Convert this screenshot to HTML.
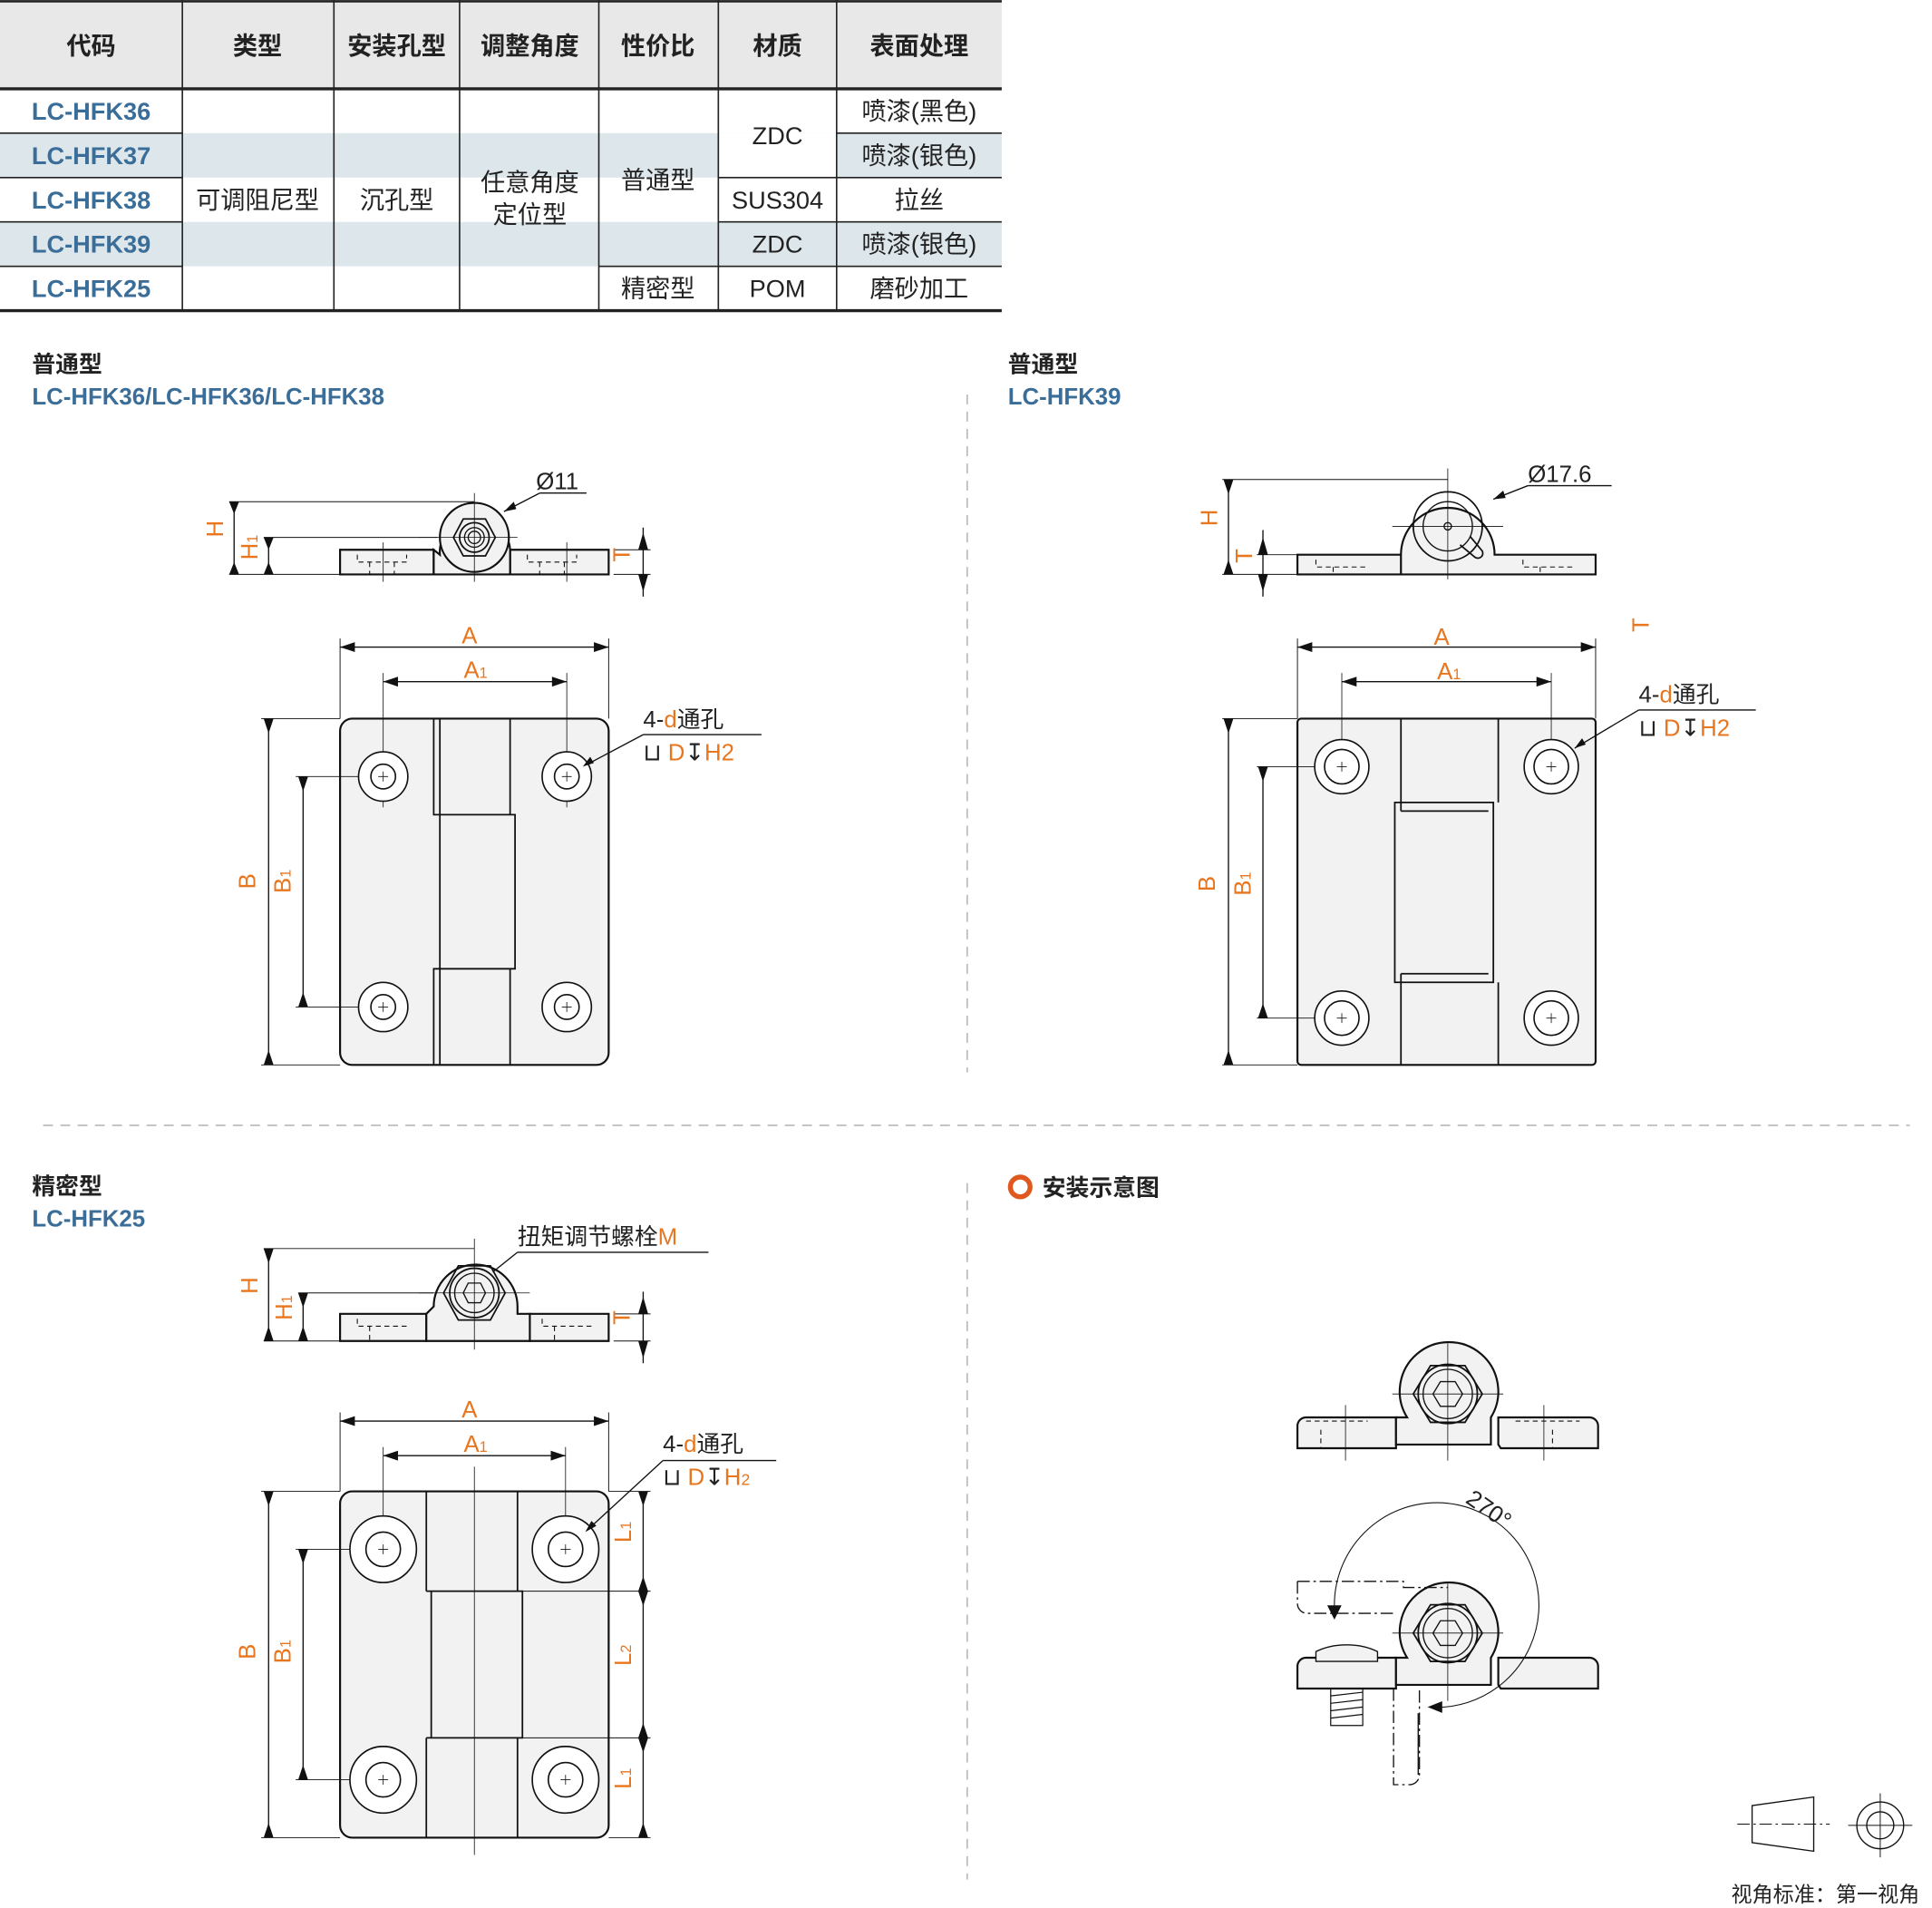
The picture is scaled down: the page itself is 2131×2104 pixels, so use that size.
<!DOCTYPE html>
<html><head><meta charset="utf-8"><style>
html,body{margin:0;padding:0;background:#fff}
svg{display:block}
text{font-family:"Liberation Sans","Noto Sans CJK SC",sans-serif}
</style></head><body>
<svg width="2131" height="2104" viewBox="0 0 1568 1548" xmlns="http://www.w3.org/2000/svg">
<rect x="0" y="0" width="813" height="72" fill="#e8e8e8"/>
<rect x="0" y="108" width="813" height="36" fill="#dde6ea"/>
<rect x="0" y="180" width="813" height="36" fill="#dde6ea"/>
<rect x="583" y="108" width="96" height="36" fill="#fff"/>
<g stroke="#222" stroke-width="1.2">
<line x1="0" y1="1" x2="813" y2="1" stroke-width="2"/>
<line x1="0" y1="72" x2="813" y2="72" stroke-width="2.5"/>
<line x1="0" y1="252" x2="813" y2="252" stroke-width="2.5"/>
<line x1="148" y1="0" x2="148" y2="252"/><line x1="271" y1="0" x2="271" y2="252"/>
<line x1="373" y1="0" x2="373" y2="252"/><line x1="486" y1="0" x2="486" y2="252"/>
<line x1="583" y1="0" x2="583" y2="252"/><line x1="679" y1="0" x2="679" y2="252"/>
<line x1="0" y1="108" x2="148" y2="108"/><line x1="0" y1="144" x2="148" y2="144"/>
<line x1="0" y1="180" x2="148" y2="180"/><line x1="0" y1="216" x2="148" y2="216"/>
<line x1="679" y1="108" x2="813" y2="108"/><line x1="583" y1="144" x2="813" y2="144"/>
<line x1="583" y1="180" x2="813" y2="180"/><line x1="486" y1="216" x2="813" y2="216"/>
</g>
<g font-size="20" text-anchor="middle" fill="#222" font-weight="bold">
<text x="74" y="44">代码</text><text x="209" y="44">类型</text><text x="322" y="44">安装孔型</text>
<text x="430" y="44">调整角度</text><text x="534" y="44">性价比</text><text x="631" y="44">材质</text><text x="746" y="44">表面处理</text>
</g>
<g font-size="20" text-anchor="middle" fill="#3a6e98" font-weight="bold">
<text x="74" y="97">LC-HFK36</text><text x="74" y="133">LC-HFK37</text><text x="74" y="169">LC-HFK38</text>
<text x="74" y="205">LC-HFK39</text><text x="74" y="241">LC-HFK25</text>
</g>
<g font-size="20" text-anchor="middle" fill="#222">
<text x="209" y="169">可调阻尼型</text><text x="322" y="169">沉孔型</text>
<text x="430" y="155">任意角度</text><text x="430" y="181">定位型</text>
<text x="534" y="153">普通型</text><text x="534" y="241">精密型</text>
<text x="631" y="117">ZDC</text><text x="631" y="169">SUS304</text><text x="631" y="205">ZDC</text><text x="631" y="241">POM</text>
<text x="746" y="97">喷漆(黑色)</text><text x="746" y="133">喷漆(银色)</text><text x="746" y="169">拉丝</text>
<text x="746" y="205">喷漆(银色)</text><text x="746" y="241">磨砂加工</text>
</g>
<g font-size="19" font-weight="bold">
<text x="26" y="302" fill="#222">普通型</text><text x="26" y="328" fill="#3a6e98">LC-HFK36/LC-HFK36/LC-HFK38</text>
<text x="818" y="302" fill="#222">普通型</text><text x="818" y="328" fill="#3a6e98">LC-HFK39</text>
<text x="26" y="969" fill="#222">精密型</text><text x="26" y="995" fill="#3a6e98">LC-HFK25</text>
<text x="846" y="970" fill="#222">安装示意图</text>
</g>
<circle cx="828" cy="963" r="8" fill="none" stroke="#e0581e" stroke-width="4"/>
<g stroke="#aaa" stroke-width="1" stroke-dasharray="8 6" fill="none">
<line x1="785" y1="320" x2="785" y2="870"/><line x1="785" y1="960" x2="785" y2="1525"/>
<line x1="35" y1="913" x2="1550" y2="913"/>
</g>

<g stroke="#111" stroke-width="1" fill="none">
<path d="M276,446 H352 V466 H276 Z M414,446 H494 V466 H414 Z" fill="#f2f2f2" stroke-width="1.6"/>
<path d="M357,450 A28,28 0 1 1 414,446 V466 H352 V446 Z" fill="#f2f2f2" stroke-width="1.6"/>
<circle cx="385" cy="436" r="28" fill="#f2f2f2" stroke-width="1.6"/>
<polygon points="368,436 376,421 394,421 402,436 394,451 376,451" stroke-width="1.3"/>
<circle cx="385" cy="436" r="12" stroke-width="1.3"/><circle cx="385" cy="436" r="8"/><circle cx="385" cy="436" r="5"/>
<line x1="385" y1="400" x2="385" y2="472" stroke-width="0.6"/><line x1="340" y1="436" x2="420" y2="436" stroke-width="0.6"/>
<line x1="311" y1="440" x2="311" y2="472" stroke-width="0.6"/><line x1="460" y1="440" x2="460" y2="472" stroke-width="0.6"/>
<path d="M290,450 v6 h40 v-6 M300,456 v10 M320,456 v10 M428,450 v6 h40 v-6 M438,456 v10 M458,456 v10" stroke-dasharray="4 3" stroke-width="0.8"/>
<line x1="186" y1="407" x2="385" y2="407" stroke-width="0.7"/><line x1="186" y1="466" x2="276" y2="466" stroke-width="0.7"/>
<line x1="214" y1="436" x2="355" y2="436" stroke-width="0.7"/>
<line x1="190" y1="407" x2="190" y2="466"/><line x1="218" y1="436" x2="218" y2="466"/>
<line x1="498" y1="446" x2="528" y2="446" stroke-width="0.7"/><line x1="498" y1="466" x2="528" y2="466" stroke-width="0.7"/>
<line x1="522" y1="428" x2="522" y2="484"/>
<line x1="409" y1="415" x2="438" y2="400"/><line x1="438" y1="400" x2="476" y2="400"/>
<rect x="276" y="583" width="218" height="281" rx="10" fill="#f2f2f2" stroke-width="1.6"/>
<path d="M352,583 V661 H357 V786 H352 V864 M414,583 V661 H418 V786 H414 V864 M357,583 V661 M357,786 V864 M352,661 H418 M352,786 H418" stroke-width="1.3"/>
<line x1="276" y1="525" x2="494" y2="525"/><line x1="311" y1="553" x2="460" y2="553"/>
<line x1="276" y1="518" x2="276" y2="583" stroke-width="0.7"/><line x1="494" y1="518" x2="494" y2="583" stroke-width="0.7"/>
<line x1="311" y1="546" x2="311" y2="655" stroke-width="0.6"/><line x1="460" y1="546" x2="460" y2="655" stroke-width="0.6"/>
<line x1="212" y1="583" x2="276" y2="583" stroke-width="0.7"/><line x1="212" y1="864" x2="276" y2="864" stroke-width="0.7"/>
<line x1="240" y1="630" x2="311" y2="630" stroke-width="0.6"/><line x1="240" y1="817" x2="311" y2="817" stroke-width="0.6"/>
<line x1="218" y1="583" x2="218" y2="864"/><line x1="246" y1="630" x2="246" y2="817"/>
<line x1="473" y1="622" x2="522" y2="596"/><line x1="522" y1="596" x2="618" y2="596"/>
</g>
<g fill="#fff" stroke="#111" stroke-width="1.2">
<circle cx="311" cy="630" r="20"/><circle cx="311" cy="630" r="10"/>
<circle cx="460" cy="630" r="20"/><circle cx="460" cy="630" r="10"/>
<circle cx="311" cy="817" r="20"/><circle cx="311" cy="817" r="10"/>
<circle cx="460" cy="817" r="20"/><circle cx="460" cy="817" r="10"/>
</g>
<g stroke="#111" stroke-width="0.6"><path d="M307,630h8M311,626v8M456,630h8M460,626v8M307,817h8M311,813v8M456,817h8M460,813v8"/></g>

<g stroke="#111" stroke-width="1" fill="none">
<path d="M1053,450 H1140 L1160,466 H1053 Z" fill="#f2f2f2" stroke-width="1.6"/>
<path d="M1137,450 A38,38 0 1 1 1213,450 H1295 V466 H1137 Z" fill="#f2f2f2" stroke-width="1.6"/>
<circle cx="1175" cy="427" r="28" stroke-width="1.3"/><circle cx="1175" cy="427" r="20"/><circle cx="1175" cy="427" r="3"/>
<path d="M1185,442 l12,10 a4,4 0 0 0 6,-5 l-10,-12" stroke-width="1.3"/>
<line x1="1175" y1="380" x2="1175" y2="470" stroke-width="0.6"/><line x1="1130" y1="427" x2="1220" y2="427" stroke-width="0.6"/>
<path d="M1068,454 v6 h42 M1082,460 v6 M1236,454 v6 h42 M1250,460 v6" stroke-dasharray="4 3" stroke-width="0.8"/>
<line x1="992" y1="389" x2="1175" y2="389" stroke-width="0.7"/><line x1="992" y1="466" x2="1053" y2="466" stroke-width="0.7"/>
<line x1="1020" y1="450" x2="1053" y2="450" stroke-width="0.7"/>
<line x1="997" y1="389" x2="997" y2="466"/><line x1="1025" y1="430" x2="1025" y2="484"/>
<line x1="1212" y1="405" x2="1240" y2="394"/><line x1="1240" y1="394" x2="1308" y2="394"/>
<rect x="1053" y="583" width="242" height="281" rx="3" fill="#f2f2f2" stroke-width="1.6"/>
<path d="M1137,583 V651 M1216,583 V651 M1137,797 V864 M1216,797 V864 M1132,651 H1212 V797 H1132 Z M1137,658 H1208 M1137,790 H1208 M1137,651 V658 M1137,790 V797" stroke-width="1.3"/>
<line x1="1053" y1="525" x2="1295" y2="525"/><line x1="1089" y1="553" x2="1259" y2="553"/>
<line x1="1053" y1="518" x2="1053" y2="583" stroke-width="0.7"/><line x1="1295" y1="518" x2="1295" y2="583" stroke-width="0.7"/>
<line x1="1089" y1="546" x2="1089" y2="600" stroke-width="0.6"/><line x1="1259" y1="546" x2="1259" y2="600" stroke-width="0.6"/>
<line x1="992" y1="583" x2="1053" y2="583" stroke-width="0.7"/><line x1="992" y1="864" x2="1053" y2="864" stroke-width="0.7"/>
<line x1="1020" y1="622" x2="1089" y2="622" stroke-width="0.6"/><line x1="1020" y1="826" x2="1089" y2="826" stroke-width="0.6"/>
<line x1="997" y1="583" x2="997" y2="864"/><line x1="1025" y1="622" x2="1025" y2="826"/>
<line x1="1278" y1="607" x2="1330" y2="576"/><line x1="1330" y1="576" x2="1425" y2="576"/>
</g>
<g fill="#fff" stroke="#111" stroke-width="1.2">
<circle cx="1089" cy="622" r="22"/><circle cx="1089" cy="622" r="14"/>
<circle cx="1259" cy="622" r="22"/><circle cx="1259" cy="622" r="14"/>
<circle cx="1089" cy="826" r="22"/><circle cx="1089" cy="826" r="14"/>
<circle cx="1259" cy="826" r="22"/><circle cx="1259" cy="826" r="14"/>
</g>
<g stroke="#111" stroke-width="0.6"><path d="M1085,622h8M1089,618v8M1255,622h8M1259,618v8M1085,826h8M1089,822v8M1255,826h8M1259,822v8"/></g>

<g stroke="#111" stroke-width="1" fill="none">
<path d="M276,1066 H346 V1088 H276 Z M430,1066 H494 V1088 H430 Z" fill="#f2f2f2" stroke-width="1.6"/>
<path d="M352,1060 A34,34 0 1 1 420,1060 V1066 H430 V1088 H346 V1066 Z" fill="#f2f2f2" stroke-width="1.6"/>
<polygon points="360,1049 372,1027 398,1027 410,1049 398,1071 372,1071" stroke-width="1.3"/>
<circle cx="385" cy="1049" r="20" stroke-width="1.3"/><circle cx="385" cy="1049" r="16"/>
<polygon points="376,1049 380,1041 390,1041 394,1049 390,1057 380,1057"/>
<line x1="385" y1="1005" x2="385" y2="1095" stroke-width="0.6"/><line x1="340" y1="1049" x2="430" y2="1049" stroke-width="0.6"/>
<path d="M290,1070 v6 h40 M300,1076 v12 M440,1070 v6 h40 M450,1076 v12" stroke-dasharray="4 3" stroke-width="0.8"/>
<line x1="214" y1="1013" x2="385" y2="1013" stroke-width="0.7"/><line x1="214" y1="1088" x2="276" y2="1088" stroke-width="0.7"/>
<line x1="242" y1="1049" x2="352" y2="1049" stroke-width="0.7"/>
<line x1="218" y1="1013" x2="218" y2="1088"/><line x1="246" y1="1049" x2="246" y2="1088"/>
<line x1="498" y1="1066" x2="528" y2="1066" stroke-width="0.7"/><line x1="498" y1="1088" x2="528" y2="1088" stroke-width="0.7"/>
<line x1="522" y1="1048" x2="522" y2="1106"/>
<line x1="400" y1="1032" x2="420" y2="1016"/><line x1="420" y1="1016" x2="575" y2="1016"/>
<rect x="276" y="1210" width="218" height="281" rx="10" fill="#f2f2f2" stroke-width="1.6"/>
<path d="M346,1210 V1291 M420,1210 V1291 M346,1410 V1491 M420,1410 V1491 M350,1291 H424 V1410 H350 Z M346,1291 H350 M346,1410 H350" stroke-width="1.3"/>
<line x1="385" y1="1190" x2="385" y2="1505" stroke-width="0.6"/>
<line x1="276" y1="1153" x2="494" y2="1153"/><line x1="311" y1="1181" x2="459" y2="1181"/>
<line x1="276" y1="1146" x2="276" y2="1210" stroke-width="0.7"/><line x1="494" y1="1146" x2="494" y2="1210" stroke-width="0.7"/>
<line x1="311" y1="1174" x2="311" y2="1230" stroke-width="0.6"/><line x1="459" y1="1174" x2="459" y2="1230" stroke-width="0.6"/>
<line x1="212" y1="1210" x2="276" y2="1210" stroke-width="0.7"/><line x1="212" y1="1491" x2="276" y2="1491" stroke-width="0.7"/>
<line x1="240" y1="1257" x2="311" y2="1257" stroke-width="0.6"/><line x1="240" y1="1444" x2="311" y2="1444" stroke-width="0.6"/>
<line x1="218" y1="1210" x2="218" y2="1491"/><line x1="246" y1="1257" x2="246" y2="1444"/>
<line x1="494" y1="1210" x2="528" y2="1210" stroke-width="0.7"/><line x1="424" y1="1291" x2="528" y2="1291" stroke-width="0.7"/>
<line x1="424" y1="1410" x2="528" y2="1410" stroke-width="0.7"/><line x1="494" y1="1491" x2="528" y2="1491" stroke-width="0.7"/>
<line x1="522" y1="1210" x2="522" y2="1491"/>
<line x1="475" y1="1243" x2="538" y2="1185"/><line x1="538" y1="1185" x2="630" y2="1185"/>
</g>
<g fill="#fff" stroke="#111" stroke-width="1.2">
<circle cx="311" cy="1257" r="27"/><circle cx="311" cy="1257" r="14"/>
<circle cx="459" cy="1257" r="27"/><circle cx="459" cy="1257" r="14"/>
<circle cx="311" cy="1444" r="27"/><circle cx="311" cy="1444" r="14"/>
<circle cx="459" cy="1444" r="27"/><circle cx="459" cy="1444" r="14"/>
</g>
<g stroke="#111" stroke-width="0.6"><path d="M307,1257h8M311,1253v8M455,1257h8M459,1253v8M307,1444h8M311,1440v8M455,1444h8M459,1440v8"/></g>

<g stroke="#111" stroke-width="1" fill="none">
<path d="M1053,1175 V1157 a7,7 0 0 1 7,-7 H1133 V1175 Z M1216,1150 H1290 a7,7 0 0 1 7,7 V1175 H1218 L1216,1172 Z" fill="#f2f2f2" stroke-width="1.6"/>
<path d="M1142,1150 A40,40 0 1 1 1210,1150 V1172 H1133 V1150 Z" fill="#f2f2f2" stroke-width="1.6"/>
<polygon points="1147,1131 1161,1108 1189,1108 1203,1131 1189,1154 1161,1154" stroke-width="1.3"/>
<circle cx="1175" cy="1131" r="24" stroke-width="1.3"/><circle cx="1175" cy="1131" r="20"/>
<polygon points="1163,1131 1169,1121 1181,1121 1187,1131 1181,1141 1169,1141"/>
<line x1="1175" y1="1090" x2="1175" y2="1185" stroke-width="0.6"/><line x1="1130" y1="1131" x2="1220" y2="1131" stroke-width="0.6"/>
<path d="M1060,1153 h50 M1072,1160 v15 M1230,1153 h52 M1260,1160 v15" stroke-dasharray="4 3" stroke-width="0.8"/>
<line x1="1092" y1="1140" x2="1092" y2="1185" stroke-width="0.6"/><line x1="1253" y1="1140" x2="1253" y2="1185" stroke-width="0.6"/>
<path d="M1053,1370 V1352 a7,7 0 0 1 7,-7 H1133 V1370 Z M1216,1345 H1290 a7,7 0 0 1 7,7 V1370 H1218 L1216,1367 Z" fill="#f2f2f2" stroke-width="1.6"/>
<path d="M1142,1345 A40,40 0 1 1 1210,1345 V1367 H1133 V1345 Z" fill="#f2f2f2" stroke-width="1.6"/>
<polygon points="1147,1325 1161,1302 1189,1302 1203,1325 1189,1348 1161,1348" stroke-width="1.3"/>
<circle cx="1175" cy="1325" r="24" stroke-width="1.3"/><circle cx="1175" cy="1325" r="20"/>
<polygon points="1163,1325 1169,1315 1181,1315 1187,1325 1181,1335 1169,1335"/>
<line x1="1175" y1="1285" x2="1175" y2="1380" stroke-width="0.6"/><line x1="1130" y1="1325" x2="1220" y2="1325" stroke-width="0.6"/>
<path d="M1068,1340 a40,25 0 0 1 50,0 v8 h-50 Z" fill="#f2f2f2"/>
<path d="M1080,1370 v30 h26 v-30 M1080,1376 l26,-3 M1080,1382 l26,-3 M1080,1388 l26,-3 M1080,1394 l26,-3" stroke-width="0.9"/>
<path d="M1053,1283 H1139 v5 H1175 M1053,1283 v18 a8,8 0 0 0 8,8 H1133 M1131,1370 v78 h13 a8,8 0 0 0 8,-8 V1370" stroke-dasharray="10 3 2 3"/>
<path d="M1151,1390 v50" />
<path d="M1083,1304 A83,83 0 1 1 1160,1385" stroke-width="0.8"/>
<path d="M1078,1303 l5,10 l5,-10 Z M1160,1385 l10,-4 l0,8 Z" fill="#111"/>
<path d="M1422,1465 L1472,1458 V1502 L1422,1495 Z"/>
<line x1="1410" y1="1480" x2="1485" y2="1480" stroke-dasharray="10 3 2 3" stroke-width="0.7"/>
<circle cx="1526" cy="1481" r="19"/><circle cx="1526" cy="1481" r="11"/>
<line x1="1500" y1="1481" x2="1552" y2="1481" stroke-width="0.7"/><line x1="1526" y1="1455" x2="1526" y2="1507" stroke-width="0.7"/>
</g>
<g fill="#111">
<path d="M186,407 l4,10 l4,-10Z M186,466 l4,-10 l4,10Z M214,436 l4,10 l4,-10Z M214,466 l4,-10 l4,10Z M518,446 l4,-14 l4,14Z M518,466 l4,14 l4,-14Z M276,525 l12,-4 v8Z M494,525 l-12,-4 v8Z M311,553 l12,-4 v8Z M460,553 l-12,-4 v8Z M214,583 l4,12 l4,-12Z M214,864 l4,-12 l4,12Z M242,630 l4,12 l4,-12Z M242,817 l4,-12 l4,12Z M409,415 l8,-8 l2,6Z M473,622 l6,-8 l3,5Z"/>
<path d="M993,389 l4,12 l4,-12Z M993,466 l4,-12 l4,12Z M1021,450 l4,-14 l4,14Z M1021,466 l4,14 l4,-14Z M1053,525 l12,-4 v8Z M1295,525 l-12,-4 v8Z M1089,553 l12,-4 v8Z M1259,553 l-12,-4 v8Z M993,583 l4,12 l4,-12Z M993,864 l4,-12 l4,12Z M1021,622 l4,12 l4,-12Z M1021,826 l4,-12 l4,12Z M1212,405 l8,-7 l2,6Z M1278,607 l6,-8 l3,5Z"/>
<path d="M214,1013 l4,12 l4,-12Z M214,1088 l4,-12 l4,12Z M242,1049 l4,12 l4,-12Z M242,1088 l4,-12 l4,12Z M518,1066 l4,-14 l4,14Z M518,1088 l4,14 l4,-14Z M276,1153 l12,-4 v8Z M494,1153 l-12,-4 v8Z M311,1181 l12,-4 v8Z M459,1181 l-12,-4 v8Z M214,1210 l4,12 l4,-12Z M214,1491 l4,-12 l4,12Z M242,1257 l4,12 l4,-12Z M242,1444 l4,-12 l4,12Z M518,1210 l4,12 l4,-12Z M518,1291 l4,-12 l4,12Z M518,1291 l4,12 l4,-12Z M518,1410 l4,-12 l4,12Z M518,1410 l4,12 l4,-12Z M518,1491 l4,-12 l4,12Z M475,1243 l5,-9 l4,4Z"/>
</g>
<g fill="#e8761e" font-size="19">
<text x="188" y="436" transform="rotate(-90 181 436)" text-anchor="middle">H</text>
<text x="216" y="451" transform="rotate(-90 209 451)" text-anchor="middle">H<tspan font-size="12">1</tspan></text>
<text x="518" y="457" transform="rotate(-90 511 457)" text-anchor="middle">T</text>
<text x="381" y="522" text-anchor="middle">A</text>
<text x="386" y="550" text-anchor="middle">A<tspan font-size="12">1</tspan></text>
<text x="214" y="722" transform="rotate(-90 207 722)" text-anchor="middle">B</text>
<text x="243" y="722" transform="rotate(-90 236 722)" text-anchor="middle">B<tspan font-size="12">1</tspan></text>
<text x="995" y="427" transform="rotate(-90 988 427)" text-anchor="middle">H</text>
<text x="1023" y="458" transform="rotate(-90 1016 458)" text-anchor="middle">T</text>
<text x="1345" y="514" transform="rotate(-90 1338 514)" text-anchor="middle">T</text>
<text x="1170" y="523" text-anchor="middle">A</text>
<text x="1176" y="551" text-anchor="middle">A<tspan font-size="12">1</tspan></text>
<text x="993" y="724" transform="rotate(-90 986 724)" text-anchor="middle">B</text>
<text x="1022" y="724" transform="rotate(-90 1015 724)" text-anchor="middle">B<tspan font-size="12">1</tspan></text>
<text x="216" y="1050" transform="rotate(-90 209 1050)" text-anchor="middle">H</text>
<text x="244" y="1068" transform="rotate(-90 237 1068)" text-anchor="middle">H<tspan font-size="12">1</tspan></text>
<text x="518" y="1076" transform="rotate(-90 511 1076)" text-anchor="middle">T</text>
<text x="381" y="1150" text-anchor="middle">A</text>
<text x="386" y="1178" text-anchor="middle">A<tspan font-size="12">1</tspan></text>
<text x="214" y="1347" transform="rotate(-90 207 1347)" text-anchor="middle">B</text>
<text x="243" y="1347" transform="rotate(-90 236 1347)" text-anchor="middle">B<tspan font-size="12">1</tspan></text>
<text x="519" y="1250" transform="rotate(-90 512 1250)" text-anchor="middle">L<tspan font-size="12">1</tspan></text>
<text x="519" y="1350" transform="rotate(-90 512 1350)" text-anchor="middle">L<tspan font-size="12">2</tspan></text>
<text x="519" y="1450" transform="rotate(-90 512 1450)" text-anchor="middle">L<tspan font-size="12">1</tspan></text>
</g>
<g font-size="19" fill="#222">
<text x="435" y="397">Ø11</text>
<text x="1240" y="391">Ø17.6</text>
<text x="522" y="590">4-<tspan fill="#e8761e">d</tspan>通孔</text>
<text x="522" y="617">⊔ <tspan fill="#e8761e">D</tspan>↧<tspan fill="#e8761e">H2</tspan></text>
<text x="1330" y="570">4-<tspan fill="#e8761e">d</tspan>通孔</text>
<text x="1330" y="597">⊔ <tspan fill="#e8761e">D</tspan>↧<tspan fill="#e8761e">H2</tspan></text>
<text x="420" y="1010">扭矩调节螺栓<tspan fill="#e8761e">M</tspan></text>
<text x="538" y="1178">4-<tspan fill="#e8761e">d</tspan>通孔</text>
<text x="538" y="1205">⊔ <tspan fill="#e8761e">D</tspan>↧<tspan fill="#e8761e">H<tspan font-size="13">2</tspan></tspan></text>
<text x="1185" y="1230" transform="rotate(35 1205 1230)">270°</text>
<text x="1405" y="1543" font-size="17">视角标准：第一视角</text>
</g>
</svg>
</body></html>
